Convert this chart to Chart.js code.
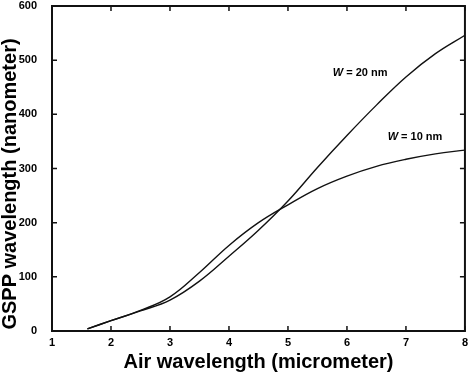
<!DOCTYPE html>
<html>
<head>
<meta charset="utf-8">
<script src="https://cdn.jsdelivr.net/npm/chart.js@4.4.1/dist/chart.umd.min.js"></script>
<style>
  html, body { margin: 0; padding: 0; background: #fff; }
  #wrap { width: 473px; height: 374px; }
</style>
</head>
<body>
<div id="wrap"><canvas id="gsppChart"></canvas></div>
<script>
const airWavelength = [1.6, 2, 2.5, 3, 3.5, 4, 4.5, 5, 5.5, 6, 6.5, 7, 7.5, 8];
const gsppW20 = [4, 19, 37, 57, 92, 138, 186, 240, 302, 361, 417, 469, 512, 546];
const gsppW10 = [4, 19, 38, 63, 108, 158, 200, 233, 263, 286, 304, 317, 327, 334];
const xTickValues = [1, 2, 3, 4, 5, 6, 7, 8];
const yTickValues = [0, 100, 200, 300, 400, 500, 600];
const curveLabels = [
  { text: ' = 20 nm', x: 5.76, y: 476 },
  { text: ' = 10 nm', x: 6.69, y: 358 }
];

const toPoints = (ys) => airWavelength.map((x, i) => ({ x, y: ys[i] }));
const fontFamily = '"Liberation Sans", Arial, sans-serif';

// MATLAB-like box with inward ticks, y labels, y title and curve labels
const framePlugin = {
  id: 'frame',
  afterDraw(chart) {
    const { ctx, chartArea: a, scales: { x, y } } = chart;
    ctx.save();
    ctx.strokeStyle = '#111';
    ctx.lineWidth = 1.5;
    ctx.beginPath();
    xTickValues.forEach(v => {
      const px = x.getPixelForValue(v);
      ctx.moveTo(px, a.bottom); ctx.lineTo(px, a.bottom - 5);
      ctx.moveTo(px, a.top); ctx.lineTo(px, a.top + 5);
    });
    yTickValues.forEach(v => {
      const py = y.getPixelForValue(v);
      ctx.moveTo(a.left, py); ctx.lineTo(a.left + 5, py);
      ctx.moveTo(a.right, py); ctx.lineTo(a.right - 5, py);
    });
    ctx.stroke();
    ctx.lineWidth = 2;
    ctx.strokeRect(a.left, a.top, a.right - a.left, a.bottom - a.top);

    ctx.fillStyle = '#000';
    ctx.font = `bold 11px ${fontFamily}`;
    ctx.textAlign = 'right';
    ctx.textBaseline = 'middle';
    yTickValues.forEach(v => {
      ctx.fillText(String(v), a.left - 15, y.getPixelForValue(v));
    });

    // y axis title
    ctx.font = `bold 20px ${fontFamily}`;
    ctx.textAlign = 'center';
    ctx.translate(10, 184);
    ctx.rotate(-Math.PI / 2);
    ctx.fillText('GSPP wavelength (nanometer)', 0, 0);
    ctx.restore();

    ctx.save();
    ctx.fillStyle = '#000';
    ctx.textBaseline = 'middle';
    ctx.textAlign = 'left';
    curveLabels.forEach(l => {
      const px = x.getPixelForValue(l.x);
      const py = y.getPixelForValue(l.y);
      ctx.font = `italic bold 11px ${fontFamily}`;
      ctx.fillText('W', px, py);
      const w = ctx.measureText('W').width;
      ctx.font = `bold 11px ${fontFamily}`;
      ctx.fillText(l.text, px + w, py);
    });
    ctx.restore();
  }
};

new Chart(document.getElementById('gsppChart'), {
  type: 'line',
  data: {
    datasets: [
      {
        label: 'W = 20 nm',
        data: toPoints(gsppW20),
        borderColor: '#111',
        borderWidth: 1.4,
        pointRadius: 0,
        tension: 0.4
      },
      {
        label: 'W = 10 nm',
        data: toPoints(gsppW10),
        borderColor: '#111',
        borderWidth: 1.4,
        pointRadius: 0,
        tension: 0.4
      }
    ]
  },
  options: {
    responsive: true,
    maintainAspectRatio: false,
    animation: false,
    layout: { padding: { top: 6, right: 4, left: 0, bottom: 0 } },
    plugins: {
      legend: { display: false },
      tooltip: { enabled: false }
    },
    scales: {
      x: {
        type: 'linear',
        min: 1,
        max: 8,
        afterFit: (s) => { s.height = 43; },
        afterBuildTicks: (s) => { s.ticks = xTickValues.map(v => ({ value: v })); },
        grid: { display: false, drawTicks: false },
        border: { display: false },
        ticks: {
          color: '#000',
          padding: 5,
          font: { family: fontFamily, size: 11, weight: 'bold' }
        },
        title: {
          display: true,
          text: 'Air wavelength (micrometer)',
          color: '#000',
          padding: { top: 0, bottom: 0 },
          font: { family: fontFamily, size: 20, weight: 'bold' }
        }
      },
      y: {
        min: 0,
        max: 600,
        afterFit: (s) => { s.width = 52; },
        afterBuildTicks: (s) => { s.ticks = yTickValues.map(v => ({ value: v })); },
        grid: { display: false, drawTicks: false },
        border: { display: false },
        ticks: { display: false }
      }
    }
  },
  plugins: [framePlugin]
});
</script>
</body>
</html>
